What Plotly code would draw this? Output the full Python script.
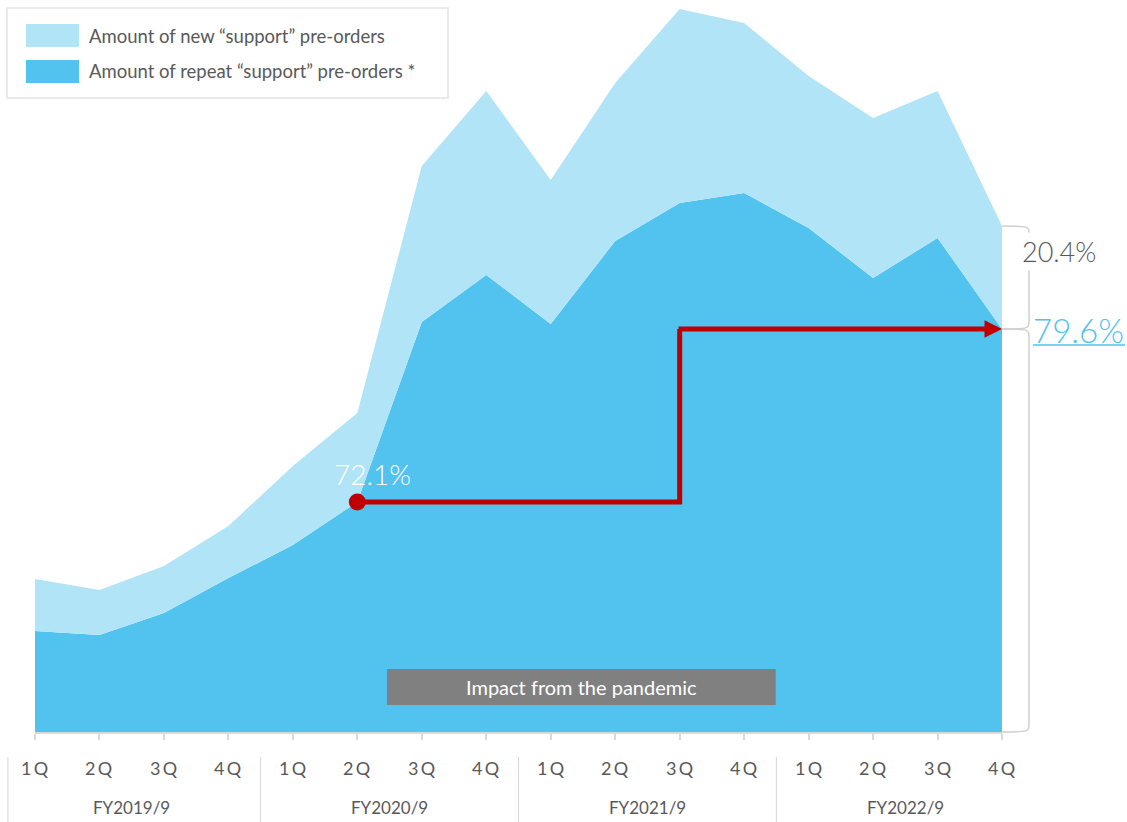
import plotly.graph_objects as go

# Quarterly "support" pre-order amounts (index units), FY2019/9 .. FY2022/9
fiscal_years = ["FY2019/9", "FY2020/9", "FY2021/9", "FY2022/9"]
quarters = ["1Q", "2Q", "3Q", "4Q"]
repeat_orders = [101, 97, 119, 154, 187, 230, 410, 457, 408, 491, 529, 539, 504, 454, 494, 403]
new_orders = [52, 45, 47, 52, 79, 89, 156, 184, 144, 158, 194, 170, 152, 160, 147, 103]

# Repeat-share milestones shown on the chart
share_start = 72.1   # FY2020/9 2Q
share_end = 79.6     # FY2022/9 4Q
new_share_end = 20.4

# Pandemic period box (quarter index range)
pandemic_span = [5.46, 11.49]

LIGHT = "#B2E4F8"
DARK = "#52C2EF"
RED = "#C00000"
GREY_TXT = "#595959"
FONT = "Lato"

n = len(repeat_orders)
xs = list(range(n))
totals = [r + w for r, w in zip(repeat_orders, new_orders)]

W, H = 1127, 822
ML, MR, MT, MB = 35, 125, 0, 90
PW, PH = W - ML - MR, H - MT - MB
YMAX = PH  # one index unit per pixel of plot height


def px_x(p):
    return (p - ML) / PW


def px_y(p):
    return (H - MB - p) / PH


fig = go.Figure()

fig.add_trace(go.Scatter(
    x=xs, y=repeat_orders, stackgroup="orders", mode="lines",
    line=dict(width=0, color=DARK), fillcolor=DARK,
    name="Amount of repeat “support” pre-orders *", hoverinfo="skip"))
fig.add_trace(go.Scatter(
    x=xs, y=new_orders, stackgroup="orders", mode="lines",
    line=dict(width=0, color=LIGHT), fillcolor=LIGHT,
    name="Amount of new “support” pre-orders", hoverinfo="skip"))

# Red step line from the 72.1% point to 3Q FY2021/9, then up to the 79.6% level
i0, i_step, i1 = 5, 10, n - 1
fig.add_trace(go.Scatter(
    x=[i0, i_step, i_step], y=[repeat_orders[i0], repeat_orders[i0], repeat_orders[i1]],
    mode="lines", line=dict(color=RED, width=5), hoverinfo="skip", showlegend=False))
fig.add_trace(go.Scatter(
    x=[i0], y=[repeat_orders[i0]], mode="markers",
    marker=dict(color=RED, size=17), hoverinfo="skip", showlegend=False))

shapes = []
annotations = []

# arrow segment to the final quarter
annotations.append(dict(
    x=i1, y=repeat_orders[i1], ax=i_step - 0.04, ay=repeat_orders[i1],
    xref="x", yref="y", axref="x", ayref="y", text="", showarrow=True,
    arrowhead=2, arrowsize=0.7, arrowwidth=5, arrowcolor=RED, standoff=0))

# pandemic box
shapes.append(dict(type="rect", xref="x", yref="y",
                   x0=pandemic_span[0], x1=pandemic_span[1], y0=27, y1=63,
                   fillcolor="#808080", line=dict(width=0), layer="above"))
annotations.append(dict(x=sum(pandemic_span) / 2, y=45, xref="x", yref="y",
                        xanchor="center", yanchor="middle",
                        text="Impact from the pandemic", showarrow=False,
                        font=dict(family=FONT, size=20, color="white")))

# share labels
annotations.append(dict(x=i0, y=repeat_orders[i0], xref="x", yref="y",
                        xanchor="center", yanchor="middle",
                        text=f"{share_start}%", showarrow=False, xshift=15, yshift=28,
                        font=dict(family=FONT, size=28, color="white", weight=300)))

# right-hand brackets
xb0, xb1 = 1.0, px_x(1029)
yt, ym, yb = totals[-1] / YMAX, repeat_orders[-1] / YMAX, 0.0
r = 0.012
brace = dict(type="path", xref="paper", yref="paper",
             line=dict(color="#D0D0D0", width=1.5), layer="above")
shapes.append(dict(brace, path=(f"M {xb0},{yt} C {xb1},{yt} {xb1},{yt} {xb1},{yt - r} "
                                f"L {xb1},{ym + r} C {xb1},{ym} {xb1},{ym} {xb0},{ym}")))
shapes.append(dict(brace, path=(f"M {xb0},{ym} C {xb1},{ym} {xb1},{ym} {xb1},{ym - r} "
                                f"L {xb1},{yb + r} C {xb1},{yb} {xb1},{yb} {xb0},{yb}")))
annotations.append(dict(x=px_x(1019), y=px_y(251), xref="paper", yref="paper",
                        xanchor="left", yanchor="middle",
                        text=f"{new_share_end}%", showarrow=False,
                        bgcolor="white", borderpad=2,
                        font=dict(family=FONT, size=27, color=GREY_TXT, weight=300)))
annotations.append(dict(x=px_x(1031), y=px_y(330), xref="paper", yref="paper",
                        xanchor="left", yanchor="middle",
                        text=f"{share_end}%", showarrow=False,
                        font=dict(family=FONT, size=33, color=DARK, weight=300)))
shapes.append(dict(type="line", xref="paper", yref="paper",
                   x0=px_x(1033), x1=px_x(1125), y0=px_y(345), y1=px_y(345),
                   line=dict(color=DARK, width=1.5), layer="above"))

# legend box
shapes.append(dict(type="rect", xref="paper", yref="paper",
                   x0=px_x(7), x1=px_x(448), y0=px_y(98), y1=px_y(8),
                   fillcolor="white", line=dict(color="#E3E3E3", width=1.5), layer="above"))
legend_items = [("Amount of new “support” pre-orders", LIGHT, 35.5),
                ("Amount of repeat “support” pre-orders *", DARK, 71.5)]
for label, col, yc in legend_items:
    shapes.append(dict(type="rect", xref="paper", yref="paper",
                       x0=px_x(26), x1=px_x(79), y0=px_y(yc + 11.5), y1=px_y(yc - 11.5),
                       fillcolor=col, line=dict(width=0), layer="above"))
    annotations.append(dict(x=px_x(87), y=px_y(yc), xref="paper", yref="paper",
                            xanchor="left", yanchor="middle", text=label, showarrow=False,
                            font=dict(family=FONT, size=18.5, color=GREY_TXT)))

# quarter / fiscal-year category labels
for i in xs:
    annotations.append(dict(x=i, y=px_y(768), xref="x", yref="paper",
                            xanchor="center", yanchor="middle",
                            text="\u2009".join(quarters[i % 4]), showarrow=False,
                            font=dict(family=FONT, size=18, color=GREY_TXT)))
for k, fy in enumerate(fiscal_years):
    annotations.append(dict(x=4 * k + 1.5, y=px_y(808), xref="x", yref="paper",
                            xanchor="center", yanchor="middle",
                            text=fy, showarrow=False,
                            font=dict(family=FONT, size=17, color=GREY_TXT)))
for sx in [-0.42, 3.5, 7.5, 11.5]:
    shapes.append(dict(type="line", xref="paper", yref="paper",
                       x0=sx / (n - 1), x1=sx / (n - 1), y0=px_y(757), y1=px_y(822),
                       line=dict(color="#D6D6D6", width=1)))

fig.update_layout(
    width=W, height=H,
    margin=dict(l=ML, r=MR, t=MT, b=MB),
    paper_bgcolor="white", plot_bgcolor="white",
    showlegend=False,
    shapes=shapes, annotations=annotations,
    xaxis=dict(range=[0, n - 1], showgrid=False, zeroline=False,
               showline=True, linecolor="#D9D9D9", linewidth=1.5,
               ticks="outside", ticklen=6, tickcolor="#D9D9D9", tickwidth=1.5,
               tickvals=xs, showticklabels=False, fixedrange=True),
    yaxis=dict(range=[0, YMAX], visible=False, fixedrange=True),
)

fig.write_html("out.html")
